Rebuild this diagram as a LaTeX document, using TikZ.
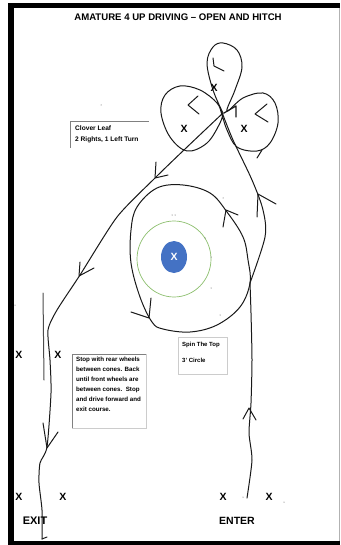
\documentclass[tikz,border=0pt]{standalone}
\usepackage{fontspec}
\setmainfont{Liberation Sans}
\usepackage{xcolor}
\usepackage{tikz}
\usetikzlibrary{shapes.geometric}
\definecolor{spotblue}{HTML}{4472C4}
\definecolor{ringgreen}{HTML}{8DBF6E}
\tikzset{
  cone/.style={font=\bfseries\fontsize{10.5}{10.5}\selectfont,inner sep=0pt},
  course/.style={line width=1pt,black!90,line cap=round,line join=round},
  note/.style={font=\bfseries\fontsize{6.2}{10}\selectfont,align=left,anchor=north west,inner sep=0pt},
  speck/.style={fill=black!70,draw=none}
}

\begin{document}
\begin{tikzpicture}[x=1pt,y=-1pt]
\useasboundingbox (0,0) rectangle (340,545);
\fill [white] (0,0) rectangle (340,545);
% frame
\fill [black] (8,3) rectangle (340,8);
\fill [black] (8,3) rectangle (14,545);
\fill [black] (8,541) rectangle (340,545);
\draw [black!30,line width=0.6pt] (339,8) -- (339,541);

\node (title) at (178,17) [font=\bfseries\fontsize{9.6}{10}\selectfont,inner sep=0pt] {AMATURE 4 UP DRIVING – OPEN AND HITCH};

% clover leaf
\draw [course] plot [smooth,tension=0.6] coordinates {(223,113) (213,90) (207,63) (213,47) (223,43) (237,50) (242,67) (235,90) (227,111) (243,98) (263,93) (275,103) (278,123) (270,143) (257,151) (237,147) (227,130) (222,115) (217,103) (200,90) (180,86) (165,95) (161,113) (170,137) (187,151) (207,143) (220,123) (223,113)};
\draw [course] (213,58) -- (214,66) -- (224,71);
\draw [course] (198,96) -- (188,105) -- (199,114);
\draw [course] (267,104) -- (255,114) -- (268,122);
\draw [course,line width=1.2pt] (224,113) -- (236,106) -- (236,117);
\draw [course] (257,158) -- (262,150);

% way out
\draw [course] plot [smooth,tension=0.4] coordinates {(223,113) (185,149) (155,178) (117,217) (80,275) (57,310) (48,330) (50,360) (51,393) (47,447) (40,463) (39,483) (42,510) (42,539)};
\draw [course] (42,539) -- (47,537);
\draw [course] (156,162) -- (155,178) -- (168,175);
\draw [course] (80,262) -- (79,276) -- (94,268);
\draw [course] (43,423) -- (47,448) -- (58,432);
\draw [course,line width=1pt,black!70] (43,293) -- (44,380);

% way in
\draw [course] plot [smooth,tension=0.4] coordinates {(247,498) (252,460) (249,433) (251,403) (252,360) (251,313) (250,283)};
\draw [course] plot [smooth,tension=0.5] coordinates {(250,283) (265,237) (263,210) (252,180) (233,140) (223,115)};
\draw [course] (243,419) -- (249,408) -- (256,420);
\draw [course] (257,217) -- (258,194) -- (276,204);

% spin the top
\draw [course] plot [smooth cycle,tension=0.6] coordinates {(248,260) (250,283) (240,307) (217,325) (190,332) (163,329) (152,322) (140,297) (131,263) (131,230) (137,207) (157,188) (183,185) (210,193) (227,212) (243,237)};
\draw [course] (223,227) -- (226,210) -- (238,215);
\draw [course] (151,298) -- (149,318) -- (131,312);
\node (ring) at (174,259) [draw=ringgreen,line width=0.7pt,shape=ellipse,minimum width=74pt,minimum height=76pt,inner sep=0pt] {};
\node (spot) at (174,257) [fill=spotblue,shape=ellipse,minimum width=26pt,minimum height=32pt,inner sep=0pt,text=white,font=\bfseries\fontsize{10.5}{10.5}\selectfont] {X};

% cones
\node (clovera) at (214,88) [cone] {X};
\node (cloverb) at (184,129) [cone] {X};
\node (cloverc) at (244,129) [cone] {X};
\node (backa) at (19,355) [cone] {X};
\node (backb) at (58,355) [cone] {X};
\node (exita) at (19,497) [cone] {X};
\node (exitb) at (63,497) [cone] {X};
\node (entera) at (223,497) [cone] {X};
\node (enterb) at (269,497) [cone] {X};
\node (exitlabel) at (35,521) [font=\bfseries\fontsize{11}{11}\selectfont,inner sep=0pt] {EXIT};
\node (enterlabel) at (237,521) [font=\bfseries\fontsize{10.5}{11}\selectfont,inner sep=0pt] {ENTER};

% notes
\draw [black!50,line width=0.6pt] (70,148) -- (70,121) -- (149,121);
\node (cloverbox) at (75,125.5) [note,font=\bfseries\fontsize{6.6}{11}\selectfont] {Clover Leaf\\2 Rights, 1 Left Turn};
\draw [black!20,line width=0.7pt,fill=white] (178,337) rectangle (227,374);
\node (spinbox) at (182,342) [note,font=\bfseries\fontsize{6}{15.5}\selectfont] {Spin The Top\\3' Circle};
\draw [black!20,line width=0.7pt,fill=white] (72,354) rectangle (146,428);
\draw [black!50,line width=0.6pt] (72,428) -- (72,354) -- (146,354);
\node (stepbox) at (76,357) [note] {Stop with rear wheels\\between cones. Back\\until front wheels are\\between cones.\ \ Stop\\and drive forward and\\exit course.};

% specks
\foreach \px/\py in {101/105,172/215,175/215,205/238,211/257,211/288,220/315,223/198,243/497,284/502,15/305}
  \fill [speck] (\px,\py) circle (0.5pt);
\end{tikzpicture}
\end{document}
